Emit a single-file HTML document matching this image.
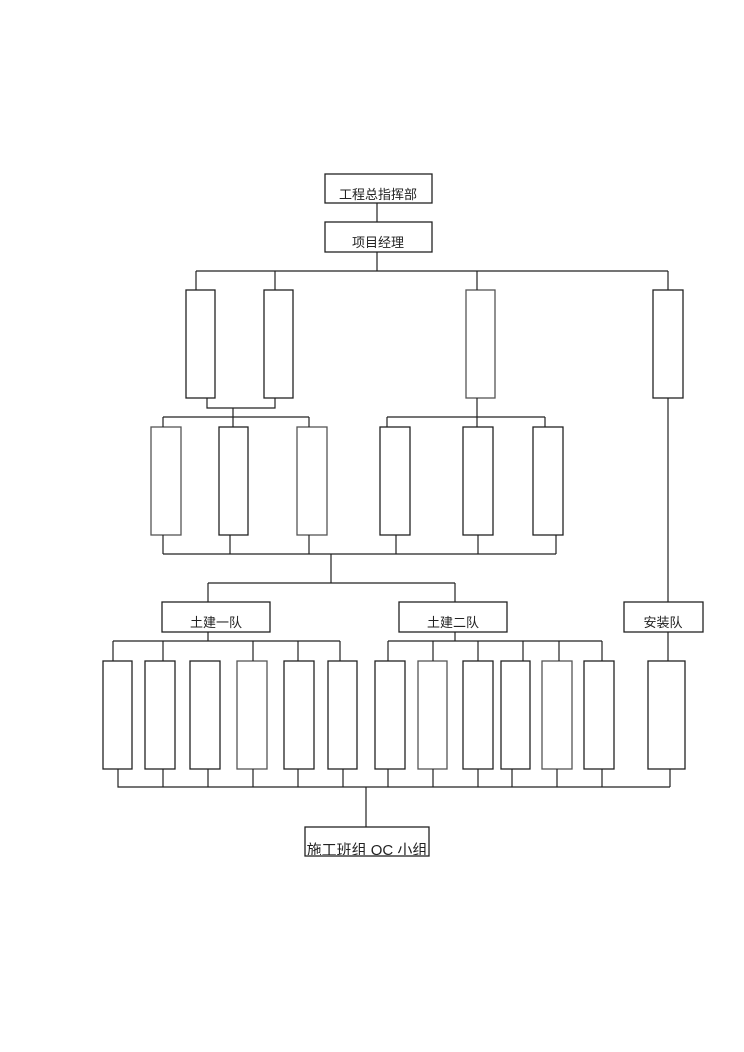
<!DOCTYPE html>
<html><head><meta charset="utf-8"><style>
html,body{margin:0;padding:0;background:#fff;}
svg{display:block;}
text{font-family:"Liberation Sans","Noto Sans CJK SC",sans-serif;font-size:13px;fill:#222;}
</style></head><body>
<svg width="744" height="1052" viewBox="0 0 744 1052" xmlns="http://www.w3.org/2000/svg">
<g fill="#fff" stroke="#222" stroke-width="1.3">
<rect x="325" y="174" width="107" height="29"/>
<rect x="325" y="222" width="107" height="30"/>
<rect x="186" y="290" width="29" height="108"/>
<rect x="264" y="290" width="29" height="108"/>
<rect x="466" y="290" width="29" height="108" stroke="#555"/>
<rect x="653" y="290" width="30" height="108"/>
<rect x="151" y="427" width="30" height="108" stroke="#555"/>
<rect x="219" y="427" width="29" height="108"/>
<rect x="297" y="427" width="30" height="108" stroke="#555"/>
<rect x="380" y="427" width="30" height="108"/>
<rect x="463" y="427" width="30" height="108"/>
<rect x="533" y="427" width="30" height="108"/>
<rect x="162" y="602" width="108" height="30"/>
<rect x="399" y="602" width="108" height="30"/>
<rect x="624" y="602" width="79" height="30"/>
<rect x="103" y="661" width="29" height="108"/>
<rect x="145" y="661" width="30" height="108"/>
<rect x="190" y="661" width="30" height="108"/>
<rect x="237" y="661" width="30" height="108" stroke="#555"/>
<rect x="284" y="661" width="30" height="108"/>
<rect x="328" y="661" width="29" height="108"/>
<rect x="375" y="661" width="30" height="108"/>
<rect x="418" y="661" width="29" height="108" stroke="#555"/>
<rect x="463" y="661" width="30" height="108"/>
<rect x="501" y="661" width="29" height="108"/>
<rect x="542" y="661" width="30" height="108" stroke="#555"/>
<rect x="584" y="661" width="30" height="108"/>
<rect x="648" y="661" width="37" height="108"/>
<rect x="305" y="827" width="124" height="29"/>
</g>
<g stroke="#222" stroke-width="1.2" fill="none">
<path d="M377 203V222M377 252V271M196 271H668M196 271V290M275 271V290M477 271V290M668 271V290"/>
<path d="M207 398V408H275V398M233 408V417M163 417H309M163 417V427M233 417V427M309 417V427"/>
<path d="M477 398V427M387 417H545M387 417V427M545 417V427"/>
<path d="M163 535V554M230 535V554M309 535V554M396 535V554M478 535V554M556 535V554M163 554H556"/>
<path d="M331 554V583M208 583H455M208 583V602M455 583V602M668 398V602"/>
<path d="M208 632V641M113 641H340M113 641V661M163 641V661M253 641V661M298 641V661M340 641V661"/>
<path d="M455 632V641M388 641H602M388 641V661M433 641V661M478 641V661M523 641V661M559 641V661M602 641V661"/>
<path d="M668 632V661"/>
<path d="M118 769V787H670M163 769V787M208 769V787M253 769V787M298 769V787M343 769V787M388 769V787M433 769V787M478 769V787M512 769V787M557 769V787M602 769V787M670 769V787M366 787V827"/>
</g>
<text x="378" y="199" text-anchor="middle">工程总指挥部</text>
<text x="378" y="247" text-anchor="middle">项目经理</text>
<text x="216" y="627" text-anchor="middle">土建一队</text>
<text x="453" y="627" text-anchor="middle">土建二队</text>
<text x="663" y="627" text-anchor="middle">安装队</text>
<svg x="305" y="827" width="124" height="28"><text x="62" y="28" text-anchor="middle" style="font-size:15px">施工班组 QC 小组</text></svg>
</svg>
</body></html>
